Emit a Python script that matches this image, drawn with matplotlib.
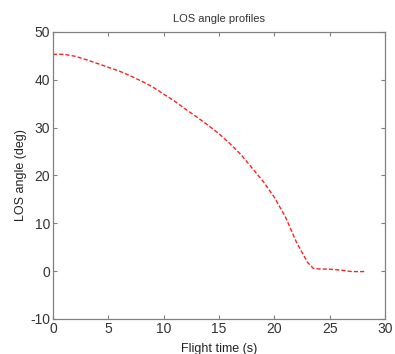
import matplotlib
matplotlib.use("Agg")
import matplotlib.pyplot as plt

# LOS angle profile
flight_time = [0, 1.0, 1.5, 2, 3, 4, 5, 6, 7, 8, 9, 10, 11, 12, 13, 14, 15,
               16, 17, 18, 19, 20, 21, 22, 23, 23.5, 24, 25, 26, 27, 28, 28.3]
los_angle = [45.3, 45.3, 45.1, 44.9, 44.2, 43.4, 42.6, 41.8, 40.8, 39.7, 38.5,
             37.0, 35.5, 33.8, 32.2, 30.5, 28.7, 26.6, 24.3, 21.5, 18.7, 15.4,
             11.3, 6.0, 1.8, 0.6, 0.45, 0.4, 0.2, -0.1, -0.1, 0.0]

x_ticks = [0, 5, 10, 15, 20, 25, 30]
y_ticks = [-10, 0, 10, 20, 30, 40, 50]

plt.rcParams["font.family"] = ["Liberation Sans", "DejaVu Sans"]
plt.rcParams["axes.unicode_minus"] = False

fig = plt.figure(figsize=(3.95, 3.54), dpi=100)
ax = fig.add_axes([0.134, 0.099, 0.841, 0.811])

ax.plot(flight_time, los_angle, color="#ff2020", linestyle=(0, (3, 1.5)), linewidth=1.0)

ax.set_xlim(0, 30)
ax.set_ylim(-10, 50)
ax.set_xticks(x_ticks)
ax.set_yticks(y_ticks)
ax.tick_params(direction="in", top=True, right=True, length=3, width=0.8,
               color="#808080", labelsize=10, labelcolor="#333333", pad=2)
for spine in ax.spines.values():
    spine.set_color("#808080")
    spine.set_linewidth(0.9)

ax.set_title("LOS angle profiles", fontsize=8, color="#333333", pad=7)
ax.set_xlabel("Flight time (s)", fontsize=9, color="#222222", labelpad=5)
ax.set_ylabel("LOS angle (deg)", fontsize=9, color="#222222", labelpad=2)

fig.savefig("out.png", dpi=100)
